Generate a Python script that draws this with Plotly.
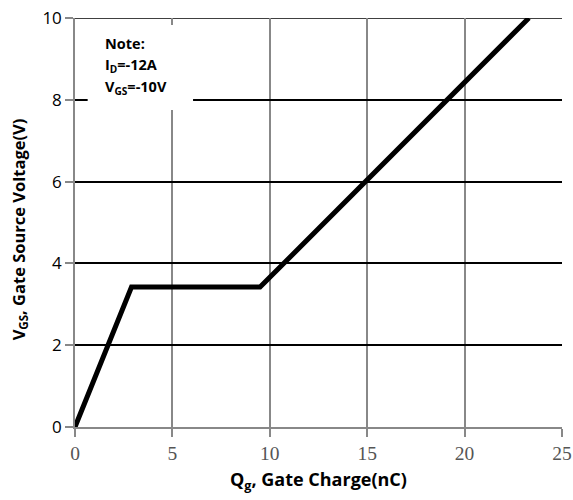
import plotly.graph_objects as go

# Data
qg_nc = [0, 2.9, 9.5, 23.3]
vgs_v = [0, 3.42, 3.42, 10]
x_ticks = [0, 5, 10, 15, 20, 25]
y_ticks = [0, 2, 4, 6, 8, 10]
note_lines = ["<b>Note:</b>", "<b>I<sub>D</sub>=-12A</b>", "<b>V<sub>GS</sub>=-10V</b>"]
note_y = [9.37, 8.83, 8.29]
x_title = "<b>Q<sub>g</sub>, Gate Charge(nC)</b>"
y_title = "<b>V<sub>GS</sub>, Gate Source Voltage(V)</b>"

SANS = "Open Sans, Liberation Sans, sans-serif"

fig = go.Figure()
fig.add_trace(go.Scatter(x=qg_nc, y=vgs_v, mode="lines",
                         line=dict(color="black", width=5), showlegend=False,
                         hoverinfo="skip"))

# top border gridline (black, like the other horizontal grid lines)
fig.add_shape(type="line", xref="paper", yref="y", x0=0, x1=1, y0=y_ticks[-1], y1=y_ticks[-1],
              line=dict(color="black", width=1.5), layer="below")

# white box behind note
fig.add_shape(type="rect", x0=0.65, x1=6.06, y0=7.75, y1=9.83,
              xref="x", yref="y", fillcolor="white", line=dict(width=0),
              layer="above")
for t, yy in zip(note_lines, note_y):
    fig.add_annotation(x=1.45, y=yy, xref="x", yref="y", text=t, showarrow=False,
                       xanchor="left", yanchor="middle",
                       font=dict(family=SANS, size=14.5, color="black"))

# axis titles
fig.add_annotation(x=0.5, y=-0.132, xref="paper", yref="paper", text=x_title,
                   showarrow=False, xanchor="center", yanchor="middle",
                   font=dict(family=SANS, size=18, color="black"))
fig.add_annotation(x=-0.116, y=0.482, xref="paper", yref="paper", text=y_title,
                   showarrow=False, xanchor="center", yanchor="middle", textangle=-90,
                   font=dict(family=SANS, size=16.5, color="black"))

fig.update_layout(
    width=573, height=500,
    margin=dict(l=75, r=11, t=18, b=73, autoexpand=False),
    paper_bgcolor="white", plot_bgcolor="white",
    xaxis=dict(range=[0, 25], tickvals=x_ticks, showgrid=True, automargin=False,
               gridcolor="#888888", gridwidth=1.5, zeroline=False,
               showline=True, linecolor="#888888", linewidth=1.5,
               ticks="outside", ticklen=8, tickcolor="#888888", tickwidth=1.5,
               ticklabeloverflow="allow",
               tickfont=dict(family="Liberation Serif, serif", size=19.5, color="#555555")),
    yaxis=dict(range=[0, 10], tickvals=y_ticks, showgrid=True, automargin=False,
               gridcolor="black", gridwidth=1.5, zeroline=False,
               showline=True, linecolor="#888888", linewidth=1.5,
               ticks="outside", ticklen=8, tickcolor="#888888", tickwidth=1.5,
               ticklabeloverflow="allow",
               tickfont=dict(family=SANS, size=17, color="black")),
)

fig.write_html("out.html", config={"displayModeBar": False},
               post_script="document.body.style.margin='0';document.body.style.overflow='hidden';")
